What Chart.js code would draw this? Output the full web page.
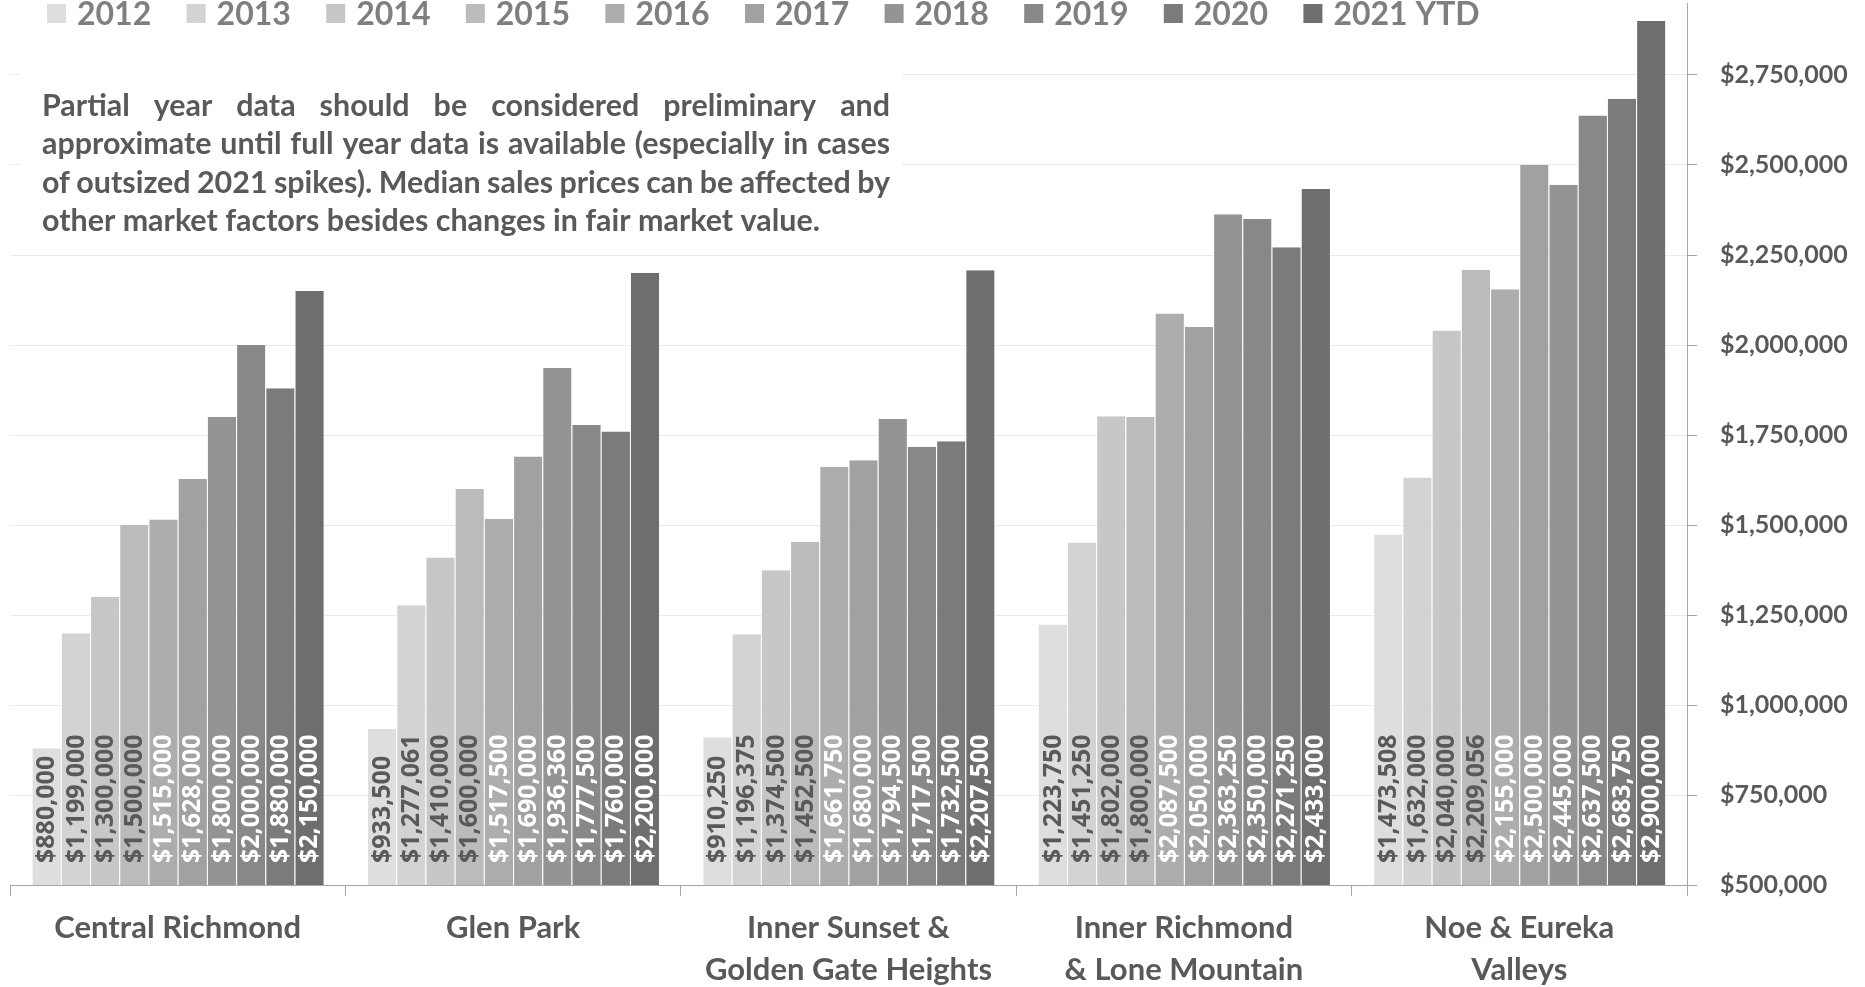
<!DOCTYPE html>
<html>
<head>
<meta charset="utf-8">
<title>Median sales prices by neighborhood</title>
<script src="https://cdn.jsdelivr.net/npm/chart.js@4.4.1/dist/chart.umd.min.js"></script>
<style>
  html, body { margin: 0; padding: 0; background: #fff; }
  canvas { display: block; }
</style>
</head>
<body>
<canvas id="chart" width="1865" height="987"></canvas>
<script>
// data
const categories = [
  ["Central Richmond"],
  ["Glen Park"],
  ["Inner Sunset &", "Golden Gate Heights"],
  ["Inner Richmond", "& Lone Mountain"],
  ["Noe & Eureka", "Valleys"]
];
const years = ["2012", "2013", "2014", "2015", "2016", "2017", "2018", "2019", "2020", "2021 YTD"];

// one array per neighborhood, 2012 .. 2021 YTD
const centralRichmond = [880000, 1199000, 1300000, 1500000, 1515000, 1628000, 1800000, 2000000, 1880000, 2150000];
const glenPark = [933500, 1277061, 1410000, 1600000, 1517500, 1690000, 1936360, 1777500, 1760000, 2200000];
const innerSunset = [910250, 1196375, 1374500, 1452500, 1661750, 1680000, 1794500, 1717500, 1732500, 2207500];
const innerRichmond = [1223750, 1451250, 1802000, 1800000, 2087500, 2050000, 2363250, 2350000, 2271250, 2433000];
const noeEureka = [1473508, 1632000, 2040000, 2209056, 2155000, 2500000, 2445000, 2637500, 2683750, 2900000];

// y axis: tick values and the visible range
const yTicks = [500000, 750000, 1000000, 1250000, 1500000, 1750000, 2000000, 2250000, 2500000, 2750000];
const yMin = 500000;
const yMax = 2950000;

const barColors = ["#dedede", "#d3d3d3", "#c7c7c7", "#bbbbbb", "#adadad",
                   "#a1a1a1", "#949494", "#888888", "#7b7b7b", "#6e6e6e"];

const note = [
  "Partial year data should be considered preliminary and",
  "approximate until full year data is available (especially in cases",
  "of outsized 2021 spikes). Median sales prices can be affected by",
  "other market factors besides changes in fair market value."
];

const FONT = "Lato, 'Open Sans', sans-serif";
const money = v => "$" + Number(v).toLocaleString("en-US");

const byGroup = [centralRichmond, glenPark, innerSunset, innerRichmond, noeEureka];
const datasets = years.map((y, i) => ({
  label: y,
  data: byGroup.map(g => g[i]),
  backgroundColor: barColors[i],
  borderColor: "rgba(255,255,255,0.28)",
  borderWidth: { left: 1, right: 0, top: 0, bottom: 0 },
  categoryPercentage: 0.871,
  barPercentage: 1.0
}));

// white note box with justified text, drawn over the gridlines
const notePlugin = {
  id: "noteBox",
  beforeDatasetsDraw(chart) {
    const ctx = chart.ctx;
    ctx.save();
    ctx.fillStyle = "#ffffff";
    ctx.fillRect(20, 55, 882, 192);
    const left = 42, right = 890;
    let size = 26;
    ctx.font = `bold ${size}px ${FONT}`;
    const w = ctx.measureText(note[1]).width;
    size = size * (right - left) / w * 0.985;
    ctx.font = `bold ${size}px ${FONT}`;
    ctx.fillStyle = "#595959";
    ctx.textBaseline = "middle";
    ctx.textAlign = "left";
    note.forEach((line, li) => {
      const y = 106 + li * 38.5;
      const words = line.split(" ");
      if (li === note.length - 1) {
        ctx.fillText(line, left, y);
        return;
      }
      const total = words.reduce((s, wd) => s + ctx.measureText(wd).width, 0);
      const gap = (right - left - total) / (words.length - 1);
      let x = left;
      words.forEach(wd => {
        ctx.fillText(wd, x, y);
        x += ctx.measureText(wd).width + gap;
      });
    });
    ctx.restore();
  }
};

// value labels, rotated, sitting at the base of each bar
const valueLabels = {
  id: "valueLabels",
  afterDatasetsDraw(chart) {
    const ctx = chart.ctx;
    const base = chart.scales.y.getPixelForValue(yMin);
    ctx.save();
    ctx.font = `bold 25px 'Open Sans', sans-serif`;
    ctx.textAlign = "left";
    ctx.textBaseline = "middle";
    chart.data.datasets.forEach((ds, di) => {
      const meta = chart.getDatasetMeta(di);
      ctx.fillStyle = di < 4 ? "#595959" : "#ffffff";
      meta.data.forEach((bar, i) => {
        ctx.save();
        ctx.translate(bar.x, base - 22);
        ctx.rotate(-Math.PI / 2);
        ctx.fillText(money(ds.data[i]), 0, 1);
        ctx.restore();
      });
    });
    ctx.restore();
  }
};

// legend laid over the top of the plot, as in the original
const topLegend = {
  id: "topLegend",
  afterDraw(chart) {
    const ctx = chart.ctx;
    ctx.save();
    ctx.font = `bold 32px ${FONT}`;
    ctx.textBaseline = "middle";
    ctx.textAlign = "left";
    chart.data.datasets.forEach((ds, i) => {
      const x = 47 + i * 139.6;
      ctx.fillStyle = ds.backgroundColor;
      ctx.fillRect(x, 4, 19, 19);
      ctx.fillStyle = "#7f7f7f";
      ctx.fillText(ds.label, x + 30, 15);
    });
    ctx.restore();
  }
};

new Chart(document.getElementById("chart"), {
  type: "bar",
  data: { labels: categories, datasets },
  plugins: [notePlugin, valueLabels, topLegend],
  options: {
    responsive: false,
    animation: false,
    layout: { padding: { top: 3, left: 10, right: 0, bottom: 0 } },
    plugins: {
      legend: { display: false },
      tooltip: { enabled: false }
    },
    scales: {
      x: {
        grid: {
          offset: true,
          drawOnChartArea: false,
          drawTicks: true,
          tickLength: 11,
          tickColor: "#a6a6a6"
        },
        border: { color: "#a6a6a6", width: 1 },
        ticks: {
          color: "#595959",
          font: { family: FONT, size: 31, weight: "bold", lineHeight: 1.36 },
          padding: 11,
          maxRotation: 0,
          autoSkip: false
        },
        afterFit(scale) {
          scale.height = 102;
          scale.paddingLeft = 0;
          scale.paddingRight = 0;
        }
      },
      y: {
        position: "right",
        min: yMin,
        max: yMax,
        grid: {
          color: "#ebebeb",
          lineWidth: 1,
          drawTicks: true,
          tickLength: 10,
          tickColor: "#a6a6a6"
        },
        border: { color: "#a6a6a6", width: 1 },
        ticks: {
          autoSkip: false,
          color: "#595959",
          padding: 23,
          font: { family: FONT, size: 25, weight: "bold" },
          callback: v => money(v)
        },
        afterBuildTicks(scale) {
          scale.ticks = yTicks.map(v => ({ value: v }));
        },
        afterFit(scale) {
          scale.width = 178;
          scale.paddingTop = 0;
          scale.paddingBottom = 0;
        }
      }
    }
  }
});
</script>
</body>
</html>
